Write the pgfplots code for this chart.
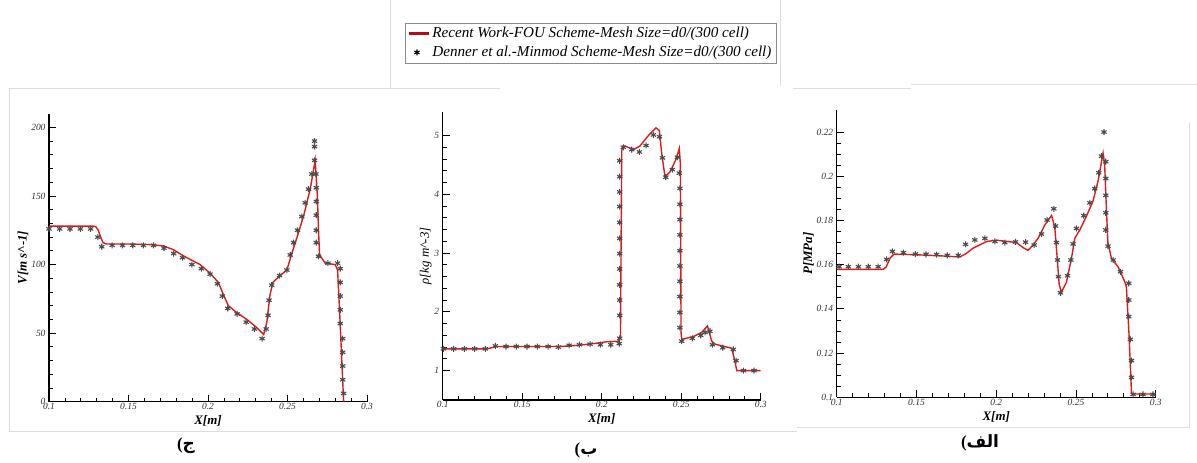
\documentclass[border=0pt]{standalone}
\usepackage{fontspec}
\setmainfont{Liberation Serif}
\newfontfamily\arabicfont[Script=Arabic]{DejaVu Sans}
\TeXXeTstate=1
\usepackage{pgfplots}
\pgfplotsset{compat=1.18}
\definecolor{curvered}{RGB}{225,25,25}
\definecolor{legred}{RGB}{185,10,20}
\definecolor{stargray}{RGB}{75,75,75}
\definecolor{framegray}{RGB}{222,222,222}
\pgfplotsset{
  panel/.style={
    scale only axis,
    width=318bp, height=288bp,
    xmin=0.1, xmax=0.3,
    xtick={0.1,0.15,0.2,0.25,0.3},
    minor x tick num=4,
    axis x line*=bottom, axis y line*=left,
    axis line style={-, line width=1.3pt, black},
    tick align=inside,
    major tick length=7bp, minor tick length=4bp,
    every tick/.style={black, line width=0.8pt},
    /pgf/number format/assume math mode=true,
    tick label style={font=\itshape\fontsize{9.5}{10}\selectfont, black!80},
    xticklabel style={yshift=2bp},
    xlabel={\textbf{\textit{X[m]}}},
    xlabel style={font=\fontsize{13}{14}\selectfont, yshift=1bp},
    ylabel style={font=\fontsize{13}{14}\selectfont, yshift=-4bp},
    clip=false,
  },
  redline/.style={color=curvered, line width=1.4pt, no marks},
  stars/.style={only marks, mark=asterisk, mark size=3bp, color=stargray, mark options={line width=1.1pt}},
}
\begin{document}
\begin{tikzpicture}[x=1bp,y=1bp]
\path[use as bounding box] (0,0) rectangle (1197,463);
% faint screenshot frames
\draw[framegray, line width=0.8pt] (9,374.7) -- (500,374.7);
\draw[framegray, line width=0.8pt] (9,374.7) -- (9,31.3) -- (797,31.3);
\draw[framegray, line width=0.8pt] (390.7,463) -- (390.7,374.7);
\draw[framegray, line width=0.8pt] (780.7,463) -- (780.7,377);
\draw[framegray, line width=0.8pt] (793,374.7) -- (911,374.7);
\draw[framegray, line width=0.8pt] (911,378.3) -- (1197,378.3);
\draw[framegray, line width=0.8pt] (797,36) -- (1189,36) -- (1189,340);

% ---------- left panel: V ----------
\begin{axis}[panel, at={(49bp,61.3bp)},
  ymin=0, ymax=210, ytick={0,50,100,150,200}, minor y tick num=4,
  ylabel={\textbf{\textit{V[m s\textasciicircum-1]}}}]
\addplot[redline] coordinates {(0.1,128)(0.128,128)(0.1295,127.5)(0.131,125)(0.1325,120)(0.134,116)(0.136,115)(0.15,115)(0.165,114.5)(0.172,113.5)(0.178,111)(0.185,106)(0.195,100)(0.201,94)(0.2065,87)(0.2097,78)(0.2128,70)(0.218,65)(0.2244,60)(0.2307,54)(0.235,49)(0.237,58)(0.239,78)(0.2408,87)(0.2454,92)(0.2496,96)(0.2527,108)(0.256,120)(0.26,135)(0.2643,155)(0.2674,176)(0.2688,150)(0.2695,125)(0.2702,107)(0.2737,101)(0.28,100)(0.2815,96)(0.283,60)(0.2853,0)};
\addplot[stars] coordinates {(0.1,126)(0.1067,126)(0.1132,126)(0.1197,126)(0.1262,126)(0.1307,120)(0.1332,113)(0.1397,114)(0.1462,114)(0.1527,114)(0.1594,114)(0.1657,114)(0.1723,112)(0.1784,108)(0.184,105)(0.1899,100)(0.1958,97)(0.2013,93)(0.2059,86)(0.209,77)(0.2124,68)(0.2183,64)(0.224,58)(0.2292,53)(0.234,46)(0.2366,53)(0.2378,63)(0.2384,74)(0.2401,85)(0.245,92)(0.2496,96)(0.2517,107)(0.2538,116)(0.2563,125)(0.259,135)(0.2611,145)(0.2632,155)(0.2653,166)(0.267,176)(0.267,186)(0.267,190)(0.2679,166)(0.2681,156)(0.2681,146)(0.2681,136)(0.2681,125)(0.2681,116)(0.2695,106)(0.2754,101)(0.2815,101)(0.2832,97)(0.2832,87)(0.2832,77)(0.2832,67)(0.2832,57)(0.2847,46)(0.2847,36)(0.2847,26)(0.2847,16)(0.2853,6)};
\end{axis}

% ---------- middle panel: rho ----------
\begin{axis}[panel, at={(442.7bp,63bp)},
  ymin=0.5, ymax=5.4, ytick={1,2,3,4,5}, minor y tick num=4,
  ylabel={\textit{ρ[kg m\textasciicircum-3]}},
  legend style={at={(0.4648,1.31)}, anchor=north, draw=black!45, line width=0.5pt,
    font=\itshape\fontsize{15.2}{16}\selectfont, inner sep=2.5bp, row sep=3bp},
  legend cell align=left]
\addplot[redline, legend image code/.code={\draw[legred, line width=2.8bp] (0bp,0bp) -- (20bp,0bp);}] coordinates {(0.1,1.37)(0.1277,1.37)(0.131,1.39)(0.134,1.41)(0.174,1.41)(0.185,1.43)(0.195,1.46)(0.203,1.49)(0.2105,1.5)(0.2118,1.6)(0.2126,4.75)(0.2135,4.82)(0.2147,4.82)(0.22,4.76)(0.224,4.82)(0.2294,5.0)(0.2342,5.13)(0.2363,5.08)(0.2377,4.7)(0.2398,4.3)(0.243,4.38)(0.2468,4.6)(0.2488,4.78)(0.2495,4.5)(0.2499,1.65)(0.2503,1.53)(0.2577,1.58)(0.2629,1.65)(0.2665,1.76)(0.2692,1.5)(0.2713,1.45)(0.2818,1.38)(0.2834,1.2)(0.285,1.0)(0.3,1.0)};
\addlegendentry{Recent Work-FOU Scheme-Mesh Size=d0/(300 cell)}
\addplot[stars, legend image code/.code={\draw[black, line width=1.1pt] plot[mark=asterisk, mark size=3bp] coordinates {(8bp,0bp)};}] coordinates {(0.1004,1.37)(0.1069,1.37)(0.1136,1.37)(0.1201,1.37)(0.1268,1.37)(0.1331,1.42)(0.1398,1.41)(0.1463,1.41)(0.153,1.41)(0.1595,1.41)(0.1663,1.41)(0.1727,1.40)(0.1795,1.43)(0.186,1.44)(0.1927,1.45)(0.1992,1.44)(0.2057,1.44)(0.211,1.46)(0.2113,1.55)(0.2113,1.94)(0.2113,2.2)(0.2113,2.46)(0.2113,2.73)(0.2113,2.99)(0.2113,3.25)(0.2113,3.52)(0.2113,3.79)(0.2113,4.04)(0.2113,4.3)(0.2113,4.57)(0.2136,4.8)(0.2189,4.76)(0.2237,4.72)(0.2279,4.83)(0.2325,5.01)(0.2363,4.98)(0.2382,4.62)(0.2403,4.29)(0.2444,4.42)(0.2476,4.63)(0.2488,4.36)(0.2492,4.1)(0.2492,3.83)(0.2492,3.57)(0.2492,3.31)(0.2492,3.04)(0.2492,2.78)(0.2492,2.52)(0.2492,2.26)(0.2492,1.99)(0.2492,1.73)(0.2503,1.5)(0.257,1.55)(0.2623,1.6)(0.265,1.65)(0.2681,1.67)(0.2696,1.44)(0.2761,1.39)(0.2828,1.36)(0.2845,1.17)(0.2891,1.0)(0.2958,1.0)};
\addlegendentry{Denner et al.-Minmod Scheme-Mesh Size=d0/(300 cell)}
\end{axis}

% ---------- right panel: P ----------
\begin{axis}[panel, at={(836.7bp,65.7bp)}, width=319bp, height=287.3bp,
  ymin=0.1, ymax=0.23, ytick={0.1,0.12,0.14,0.16,0.18,0.2,0.22}, minor y tick num=3,
  yticklabel style={/pgf/number format/fixed},
  ylabel={\textbf{\textit{P[MPa]}}}]
\addplot[redline] coordinates {(0.1,0.1579)(0.1292,0.1579)(0.131,0.159)(0.1335,0.163)(0.1359,0.1648)(0.15,0.1645)(0.165,0.164)(0.1772,0.1635)(0.181,0.165)(0.1856,0.1675)(0.194,0.1705)(0.2002,0.1711)(0.2127,0.1700)(0.2169,0.1677)(0.22,0.1665)(0.2232,0.169)(0.2263,0.172)(0.2305,0.178)(0.2347,0.1823)(0.2367,0.177)(0.2378,0.167)(0.2395,0.151)(0.2409,0.1476)(0.244,0.152)(0.2472,0.163)(0.2493,0.172)(0.2524,0.1757)(0.2566,0.182)(0.2608,0.189)(0.2639,0.198)(0.267,0.2105)(0.268,0.205)(0.2691,0.185)(0.27,0.17)(0.2722,0.163)(0.2764,0.159)(0.2806,0.1523)(0.2816,0.15)(0.2833,0.128)(0.2848,0.102)(0.2858,0.1015)(0.3,0.1015)};
\addplot[stars] coordinates {(0.1015,0.1591)(0.1073,0.1591)(0.1136,0.1591)(0.1198,0.1591)(0.126,0.1591)(0.1313,0.1624)(0.1349,0.166)(0.1418,0.1655)(0.1493,0.1648)(0.156,0.1647)(0.1626,0.1646)(0.1693,0.1642)(0.1762,0.1642)(0.1808,0.1692)(0.1866,0.1712)(0.1929,0.1719)(0.1992,0.1705)(0.2054,0.1700)(0.2121,0.1703)(0.2184,0.1702)(0.2238,0.1689)(0.2284,0.1739)(0.2319,0.1802)(0.2361,0.1853)(0.2372,0.1775)(0.2378,0.170)(0.2384,0.1621)(0.239,0.1546)(0.2403,0.1473)(0.2447,0.155)(0.2468,0.1621)(0.2482,0.1694)(0.2503,0.1764)(0.2549,0.1822)(0.2587,0.188)(0.2618,0.1944)(0.2643,0.2016)(0.266,0.2091)(0.2676,0.22)(0.2687,0.2066)(0.2687,0.199)(0.2687,0.1914)(0.2687,0.1835)(0.2687,0.1757)(0.2701,0.1684)(0.2733,0.1621)(0.2779,0.1568)(0.2831,0.1516)(0.2831,0.144)(0.2831,0.1365)(0.2841,0.1262)(0.2848,0.1166)(0.2848,0.109)(0.2858,0.1013)(0.292,0.1013)(0.2983,0.1013)};
\end{axis}

% panel captions
\node[font=\fontsize{17}{18}\selectfont\bfseries] at (186,17) {({\arabicfont\bfseries\beginR ج\endR}};
\node[font=\fontsize{17}{18}\selectfont\bfseries] at (586,13) {({\arabicfont\bfseries\beginR ب\endR}};
\node[font=\fontsize{17}{18}\selectfont\bfseries] at (980,20) {({\arabicfont\bfseries\beginR الف\endR}};
\end{tikzpicture}
\end{document}
